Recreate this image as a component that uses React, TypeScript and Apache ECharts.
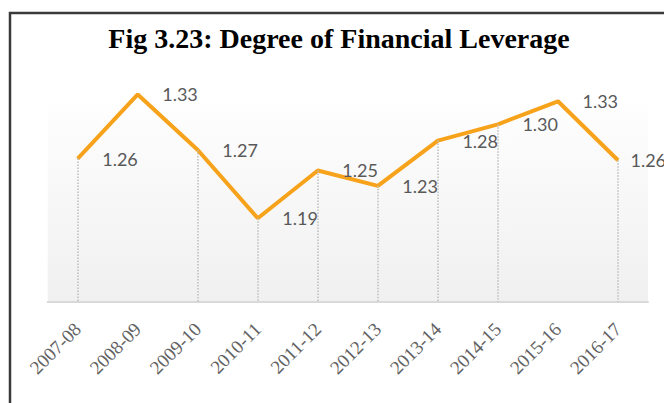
import React, { useEffect, useRef } from "react";
import * as echarts from "echarts";

const categories = [
  "2007-08", "2008-09", "2009-10", "2010-11", "2011-12",
  "2012-13", "2013-14", "2014-15", "2015-16", "2016-17",
];
const dflValues = [1.26, 1.335, 1.27, 1.19, 1.246, 1.228, 1.281, 1.3, 1.327, 1.258];
const titleText = "Fig 3.23: Degree of Financial Leverage";
const Y_MIN = 1.092;
const Y_MAX = 1.325;

export default function App() {
  const ref = useRef<HTMLDivElement>(null);
  useEffect(() => {
    if (!ref.current) return;
    const chart = echarts.init(ref.current, null, { renderer: "svg" });
    const dropLines = dflValues.map((v, i) => [
      { coord: [i, v] },
      { coord: [i, Y_MIN] },
    ]);
    const lineData = dflValues.map((v, i) =>
      i === dflValues.length - 1 ? { value: v, label: { distance: 12 } } : v
    );
    chart.setOption({
      animation: false,
      backgroundColor: "#ffffff",
      grid: {
        left: 47.7,
        right: 16,
        top: 103,
        bottom: 101,
        show: true,
        borderWidth: 0,
        backgroundColor: new echarts.graphic.LinearGradient(0, 0, 0, 1, [
          { offset: 0, color: "#fefefe" },
          { offset: 1, color: "#f0f0f0" },
        ]),
      },
      xAxis: {
        type: "category",
        data: categories,
        boundaryGap: true,
        axisLine: { show: true, lineStyle: { color: "#d9d9d9", width: 2 } },
        axisTick: { show: false },
        axisLabel: {
          rotate: 45,
          margin: 24,
          interval: 0,
          color: "#626262",
          fontFamily: "Liberation Serif",
          fontSize: 19,
        },
      },
      yAxis: {
        type: "value",
        min: Y_MIN,
        max: Y_MAX,
        show: false,
        splitLine: { show: false },
      },
      series: [
        {
          type: "line",
          data: [],
          z: 1,
          silent: true,
          markLine: {
            silent: true,
            symbol: ["none", "none"],
            label: { show: false },
            lineStyle: { type: "dotted", color: "#bdbdbd", width: 1.5 },
            data: dropLines,
          },
        },
        {
          type: "line",
          data: lineData,
          z: 3,
          clip: false,
          symbol: "circle",
          symbolSize: 1,
          itemStyle: { color: "#F7A21B" },
          lineStyle: { color: "#F7A21B", width: 4 },
          label: {
            show: true,
            position: "right",
            distance: 24,
            color: "#595959",
            fontFamily: "Lato",
            fontSize: 18,
            formatter: (p: any) => Number(p.value).toFixed(2),
          },
        },
      ],
      graphic: [
        {
          type: "rect",
          shape: { x: 10, y: 13, width: 700, height: 420 },
          style: { fill: "none", stroke: "#3a3a3a", lineWidth: 2.5 },
          silent: true,
        },
        {
          type: "text",
          x: 339,
          y: 38,
          style: {
            text: titleText,
            align: "center",
            verticalAlign: "middle",
            fill: "#000000",
            font: "bold 28px 'Liberation Serif'",
          },
        },
      ],
    });
    return () => chart.dispose();
  }, []);
  return (
    <div
      ref={ref}
      style={{ position: "fixed", left: 0, top: 0, width: 664, height: 403 }}
    />
  );
}
